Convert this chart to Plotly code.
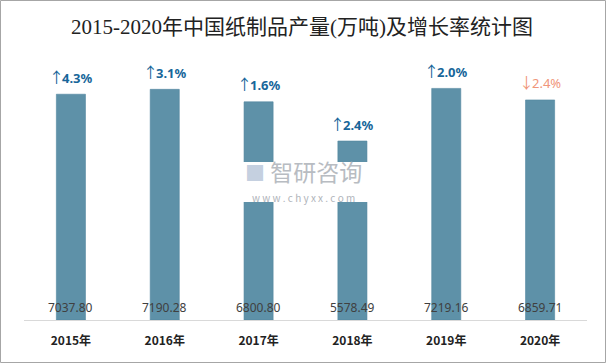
import plotly.graph_objects as go

years = ["2015年", "2016年", "2017年", "2018年", "2019年", "2020年"]
output = [7037.80, 7190.28, 6800.80, 5578.49, 7219.16, 6859.71]
growth = [4.3, 3.1, 1.6, 2.4, 2.0, -2.4]

BAR = "#5e91a8"
UP = "#17669a"
DOWN = "#f0967a"

L, R, T, B, W, H = 24, 19, 64, 44, 606, 364
PW, PH = W - L - R, H - T - B


def px(x):
    return (x - L) / PW


def py(y):
    return (H - B - y) / PH


fig = go.Figure()
fig.add_trace(go.Bar(
    x=years, y=output,
    marker=dict(color=BAR, line=dict(color="#5387a0", width=0.6)),
    hoverinfo="skip",
))

ann = []
for x, v, g in zip(years, output, growth):
    col = UP if g >= 0 else DOWN
    arrow = "↑" if g >= 0 else "↓"
    num = f"<b>{abs(g):.1f}%</b>" if g >= 0 else f"{abs(g):.1f}%"
    txt = (f"<span style='font-family:Noto Sans CJK SC;font-size:15px;letter-spacing:-2px'>{arrow}</span>"
           + num)
    ann.append(dict(x=x, y=v, yshift=18, yanchor="middle", showarrow=False,
                    text=txt,
                    font=dict(family="Noto Sans, sans-serif", size=13, color=col)))
    ann.append(dict(x=x, y=0, yshift=13, yanchor="middle", showarrow=False,
                    text=f"{v:.2f}",
                    font=dict(family="Noto Sans, sans-serif", size=12, color="#404040")))

# watermark (white patch + two text lines)
ann.append(dict(xref="paper", yref="paper", x=px(303), y=py(171), xanchor="center", yanchor="middle",
                showarrow=False,
                text="<span style='color:#c5d0e0;font-size:20px'>■</span> 智研咨询",
                font=dict(family="Noto Sans CJK SC, sans-serif", size=23, color="#b8bcc2")))
ann.append(dict(xref="paper", yref="paper", x=px(303), y=py(197), xanchor="center", yanchor="middle",
                showarrow=False,
                text="w w w . c h y x x . c o m",
                font=dict(family="Noto Sans CJK SC, sans-serif", size=10, color="#b0b4ba")))

fig.update_layout(
    width=W, height=H,
    margin=dict(l=L, r=R, t=T, b=B),
    paper_bgcolor="white", plot_bgcolor="white",
    bargap=0.69,
    showlegend=False,
    title=dict(text="2015-2020年中国纸制品产量(万吨)及增长率统计图", x=px(302), xref="paper",
               xanchor="center", y=(H - 27) / H, yanchor="middle",
               font=dict(family="Liberation Serif, Noto Sans CJK SC, serif", size=21, color="#222222")),
    xaxis=dict(showline=True, linecolor="#d9d9d9", linewidth=1, ticks="",
               ticklabelstandoff=10,
               tickfont=dict(family="Noto Sans CJK SC, sans-serif", size=12, color="#222222", weight="bold"),
               showgrid=False, fixedrange=True),
    yaxis=dict(range=[0, 7980], visible=False, showgrid=False, fixedrange=True),
    annotations=ann,
    shapes=[
        dict(type="rect", xref="paper", yref="paper", layer="above",
             x0=px(228), x1=px(378), y0=py(202), y1=py(162),
             fillcolor="white", line=dict(width=0)),
        dict(type="rect", xref="paper", yref="paper",
             x0=px(0.5), x1=px(605.5), y0=py(362.5), y1=py(0.5),
             line=dict(color="#a6a6a6", width=1)),
    ],
)
fig.write_html("out.html", config={"displayModeBar": False},
               post_script="document.body.style.margin='0';document.body.style.overflow='hidden';")
